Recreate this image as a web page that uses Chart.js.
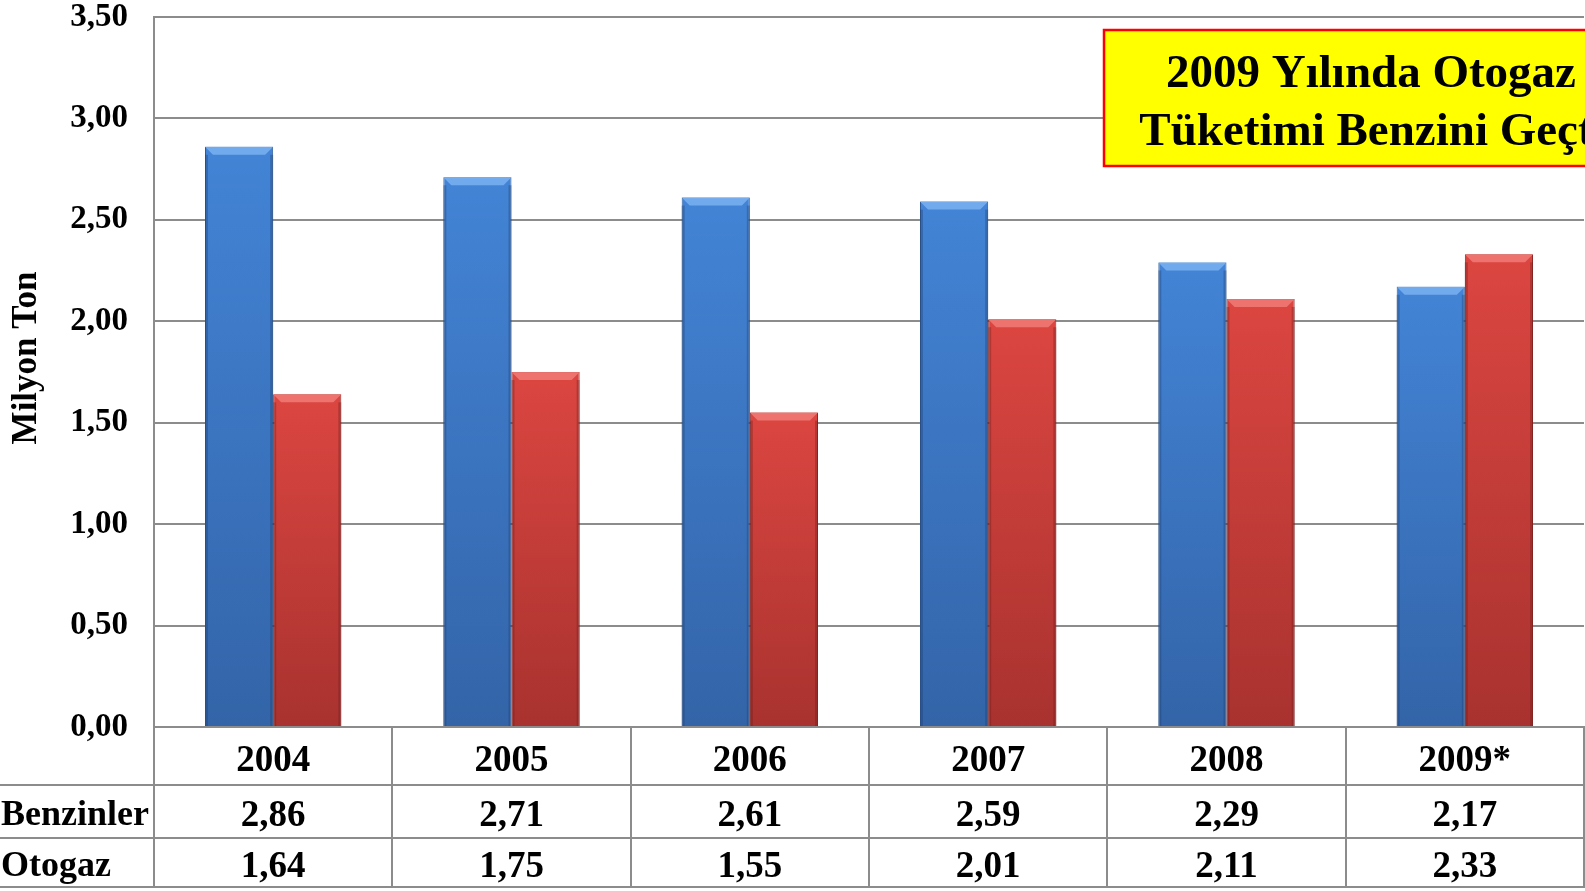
<!DOCTYPE html>
<html>
<head>
<meta charset="utf-8">
<script src="https://cdn.jsdelivr.net/npm/chart.js@4.4.1/dist/chart.umd.min.js"></script>
<style>
html,body{margin:0;padding:0;background:#fff;overflow:hidden}
#wrap{position:relative;width:1585px;height:891px}
</style>
</head>
<body>
<div id="wrap"><canvas id="c" width="1585" height="891"></canvas></div>
<script>
// ---- data ----
const categories = ['2004', '2005', '2006', '2007', '2008', '2009*'];
const benzinler = [2.86, 2.71, 2.61, 2.59, 2.29, 2.17];
const otogaz = [1.64, 1.75, 1.55, 2.01, 2.11, 2.33];
const seriesNames = ['Benzinler', 'Otogaz'];
const axisTitle = 'Milyon Ton';
const boxLines = ['2009 Yılında Otogaz', 'Tüketimi Benzini Geçti'];
const yMin = 0, yMax = 3.5, yStep = 0.5;

// ---- helpers ----
const SERIF = '"Liberation Serif", "Times New Roman", serif';
const fmt = v => v.toFixed(2).replace('.', ',');
const GRID = '#8c8c8c';

function barGradient(top, bottom) {
  return function (context) {
    const chart = context.chart;
    const area = chart.chartArea;
    if (!area || context.raw == null) return top;
    const yTop = chart.scales.y.getPixelForValue(context.raw);
    const yBot = chart.scales.y.getPixelForValue(0);
    if (!isFinite(yTop) || !isFinite(yBot) || yBot - yTop < 1) return top;
    const g = chart.ctx.createLinearGradient(0, yTop, 0, yBot);
    g.addColorStop(0, top);
    g.addColorStop(1, bottom);
    return g;
  };
}

const bevelPlugin = {
  id: 'bevel',
  afterDatasetsDraw(chart) {
    const ctx = chart.ctx;
    const lights = ['rgba(120,175,240,0.9)', 'rgba(240,120,115,0.9)'];
    const edges = ['rgba(30,60,110,0.35)', 'rgba(110,25,25,0.35)'];
    chart.data.datasets.forEach((ds, di) => {
      const meta = chart.getDatasetMeta(di);
      meta.data.forEach(bar => {
        const p = bar.getProps(['x', 'y', 'base', 'width'], true);
        const l = p.x - p.width / 2, r = p.x + p.width / 2, t = p.y, b = 8;
        ctx.save();
        ctx.fillStyle = lights[di];
        ctx.beginPath();
        ctx.moveTo(l, t); ctx.lineTo(r, t); ctx.lineTo(r - b, t + b); ctx.lineTo(l + b, t + b);
        ctx.closePath(); ctx.fill();
        ctx.fillStyle = edges[di];
        ctx.fillRect(l, t + b, 3, p.base - t - b);
        ctx.fillRect(r - 3, t + b, 3, p.base - t - b);
        ctx.restore();
      });
    });
  }
};

const tablePlugin = {
  id: 'table',
  afterDraw(chart) {
    const ctx = chart.ctx;
    const xs = chart.scales.x;
    const area = chart.chartArea;
    const W = chart.width;
    const n = categories.length;
    const colW = (area.right - area.left) / n;
    const rowY = [area.bottom, 785, 838, 887];
    ctx.save();
    ctx.strokeStyle = GRID;
    ctx.lineWidth = 2;
    ctx.beginPath();
    ctx.moveTo(area.left, rowY[0]); ctx.lineTo(W, rowY[0]);
    for (let i = 1; i < rowY.length; i++) {
      ctx.moveTo(0, rowY[i]); ctx.lineTo(W, rowY[i]);
    }
    for (let i = 0; i <= n; i++) {
      const x = Math.round(area.left + i * colW);
      ctx.moveTo(x, rowY[0]); ctx.lineTo(x, rowY[3]);
    }
    ctx.stroke();

    ctx.fillStyle = '#000';
    ctx.font = 'bold 37px ' + SERIF;
    ctx.textBaseline = 'middle';
    ctx.textAlign = 'center';
    const rows = [benzinler, otogaz];
    categories.forEach((c, i) => {
      const cx = xs.getPixelForValue(i);
      ctx.fillText(c, cx, (rowY[0] + rowY[1]) / 2 + 5);
      rows.forEach((r, ri) => {
        ctx.fillText(fmt(r[i]), cx, (rowY[ri + 1] + rowY[ri + 2]) / 2 + 5);
      });
    });
    ctx.font = 'bold 36px ' + SERIF;
    ctx.textAlign = 'left';
    seriesNames.forEach((s, ri) => {
      ctx.fillText(s, 1, (rowY[ri + 1] + rowY[ri + 2]) / 2 + 4);
    });

    ctx.save();
    ctx.translate(27, 358);
    ctx.rotate(-Math.PI / 2);
    ctx.font = 'bold 35px ' + SERIF;
    ctx.textAlign = 'center';
    ctx.textBaseline = 'middle';
    ctx.fillText(axisTitle, 0, 0);
    ctx.restore();

    const bx = 1104, by = 30, bw = 540, bh = 136;
    ctx.fillStyle = '#ffff00';
    ctx.fillRect(bx, by, bw, bh);
    ctx.strokeStyle = '#ff0000';
    ctx.lineWidth = 2.5;
    ctx.strokeRect(bx, by, bw, bh);
    ctx.fillStyle = '#000';
    ctx.font = 'bold 47px ' + SERIF;
    ctx.textAlign = 'center';
    ctx.textBaseline = 'alphabetic';
    ctx.fillText(boxLines[0], 1371, 87);
    ctx.fillText(boxLines[1], 1373, 145);
    ctx.restore();
  }
};

new Chart(document.getElementById('c'), {
  type: 'bar',
  data: {
    labels: categories,
    datasets: [
      {
        label: seriesNames[0],
        data: benzinler,
        backgroundColor: barGradient('#4384d6', '#3364a8'),
        borderColor: '#2f5a96',
        borderWidth: 1,
        categoryPercentage: 0.572,
        barPercentage: 1.0
      },
      {
        label: seriesNames[1],
        data: otogaz,
        backgroundColor: barGradient('#dc4641', '#a8322f'),
        borderColor: '#8c2926',
        borderWidth: 1,
        categoryPercentage: 0.572,
        barPercentage: 1.0
      }
    ]
  },
  options: {
    responsive: false,
    animation: false,
    layout: { padding: { top: 17, right: 1, bottom: 164, left: 0 } },
    plugins: { legend: { display: false }, tooltip: { enabled: false }, title: { display: false } },
    scales: {
      x: { display: false },
      y: {
        min: yMin,
        max: yMax,
        ticks: {
          stepSize: yStep,
          color: '#000',
          font: { family: SERIF, size: 33, weight: 'bold' },
          padding: 26,
          callback: v => fmt(v)
        },
        grid: { color: GRID, lineWidth: 2, drawTicks: false },
        border: { color: GRID, width: 2 },
        afterFit(scale) {
          scale.width = 154;
          scale.paddingTop = 0;
          scale.paddingBottom = 0;
        }
      }
    }
  },
  plugins: [bevelPlugin, tablePlugin]
});
</script>
</body>
</html>
